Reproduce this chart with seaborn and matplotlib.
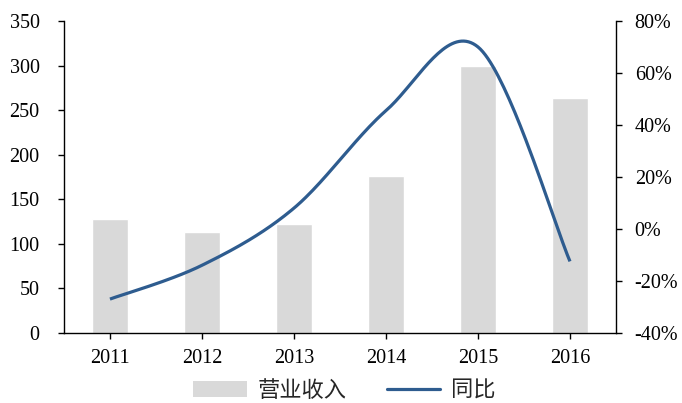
import numpy as np
import pandas as pd
import matplotlib
matplotlib.use("Agg")
import matplotlib.pyplot as plt
import seaborn as sns
from matplotlib.patches import Patch
from matplotlib.lines import Line2D
from matplotlib.ticker import FuncFormatter

years = ["2011", "2012", "2013", "2014", "2015", "2016"]
revenue = [128, 113, 122, 176, 300, 263]
yoy = [-27.0, -14.0, 8.0, 45.5, 70.0, -12.5]

sns.set_theme(style="white")
plt.rcParams["font.family"] = ["Liberation Serif", "Noto Sans CJK SC"]

bar_color = "#D9D9D9"
line_color = "#2E5C8F"
label_size = 14.5

fig = plt.figure(figsize=(6.82, 4.03), dpi=100)
ax = fig.add_axes([0.0938, 0.174, 0.8094, 0.774])

df = pd.DataFrame({"year": years, "revenue": revenue})
sns.barplot(data=df, x="year", y="revenue", color=bar_color, width=0.4,
            saturation=1, ax=ax)
ax.set_xlim(-0.5, 5.5)
ax.set_ylim(0, 350)
ax.set_yticks(range(0, 351, 50))
ax.set_xlabel("")
ax.set_ylabel("")

# secondary axis for growth rate, drawn as a smoothed (Bezier) curve
ax2 = ax.twinx()
ax2.set_ylim(-40, 80)
ax2.set_yticks(range(-40, 81, 20))
ax2.yaxis.set_major_formatter(FuncFormatter(lambda v, p: f"{int(v)}%"))

xs = np.arange(len(yoy), dtype=float)
ys = np.array(yoy, dtype=float)
px, py = [], []
t = np.linspace(0, 1, 40)
for i in range(len(xs) - 1):
    p0 = np.array([xs[i], ys[i]])
    p3 = np.array([xs[i + 1], ys[i + 1]])
    prev = np.array([xs[i - 1], ys[i - 1]]) if i > 0 else p0
    nxt = np.array([xs[i + 2], ys[i + 2]]) if i + 2 < len(xs) else p3
    p1 = p0 + (p3 - prev) / 6
    p2 = p3 - (nxt - p0) / 6
    seg = ((1 - t)[:, None] ** 3 * p0 + 3 * ((1 - t) ** 2 * t)[:, None] * p1
           + 3 * ((1 - t) * t ** 2)[:, None] * p2 + (t ** 3)[:, None] * p3)
    px.extend(seg[:, 0]); py.extend(seg[:, 1])
curve = pd.DataFrame({"x": px, "y": py})
sns.lineplot(data=curve, x="x", y="y", sort=False, color=line_color,
             linewidth=2.3, ax=ax2, solid_capstyle="butt")
ax2.set_xlabel("")
ax2.set_ylabel("")
ax2.set_xlim(-0.5, 5.5)

for a in (ax, ax2):
    for s in a.spines.values():
        s.set_visible(False)
    a.grid(False)
ax.spines["left"].set_visible(True)
ax.spines["bottom"].set_visible(True)
ax2.spines["right"].set_visible(True)
for s in (ax.spines["left"], ax.spines["bottom"], ax2.spines["right"]):
    s.set_color("#000000")
    s.set_linewidth(1.0)

ax.tick_params(axis="y", which="both", left=True, length=4.5, width=1,
               direction="out", labelsize=label_size, colors="#000000", pad=13)
ax.tick_params(axis="x", bottom=True, length=4.5, width=1, direction="out",
               labelsize=label_size, colors="#000000", pad=7)
ax2.tick_params(axis="y", right=True, length=4.5, width=1, direction="out",
                labelsize=label_size, colors="#000000", pad=9)

handles = [Patch(facecolor=bar_color, edgecolor="none", label="营业收入"),
           Line2D([0], [0], color=line_color, linewidth=2.3, label="同比")]
fig.legend(handles=handles, loc="center", bbox_to_anchor=(0.505, 0.032),
           ncol=2, frameon=False, handlelength=2.4, handleheight=0.7,
           columnspacing=1.8, handletextpad=0.5,
           prop={"family": ["Noto Sans CJK SC"], "size": 16})

fig.savefig("out.png", dpi=100)
